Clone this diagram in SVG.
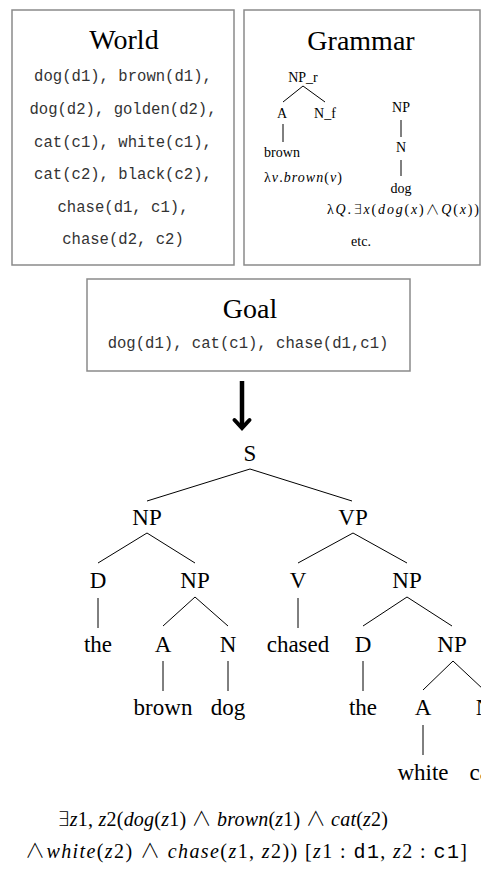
<svg xmlns="http://www.w3.org/2000/svg" width="481" height="872" viewBox="0 0 481 872">
<style>
.box{fill:#fff;stroke:#8a8a8a;stroke-width:1.5}
.title{font-family:"Liberation Serif","Times New Roman",serif;font-size:28px;text-anchor:middle;fill:#000}
.mono{font-family:"Liberation Mono","Courier New",monospace;font-size:15.6px;text-anchor:middle;fill:#333}
.g{font-family:"Liberation Serif","Times New Roman",serif;font-size:14px;text-anchor:middle;fill:#000}
.t{font-family:"Liberation Serif","Times New Roman",serif;font-size:23px;text-anchor:middle;fill:#000}
.f{font-family:"Liberation Serif","Times New Roman",serif;font-size:20px;fill:#000}
.i{font-style:italic}
.m{font-family:"Liberation Mono","Courier New",monospace}
.s{font-family:"DejaVu Sans",sans-serif;font-weight:200}
.w{font-family:"Noto Sans CJK JP","Noto Sans CJK SC",sans-serif;font-weight:300}
.e{stroke:#000;stroke-width:1;fill:none}
</style>
<rect width="481" height="872" fill="#fff"/>
<g id="world">
<rect class="box" x="12" y="10" width="222" height="255"/>
<text class="title" x="124" y="49">World</text>
<text class="mono" x="123" y="81">dog(d1), brown(d1),</text>
<text class="mono" x="123" y="114">dog(d2), golden(d2),</text>
<text class="mono" x="123" y="147">cat(c1), white(c1),</text>
<text class="mono" x="123" y="179">cat(c2), black(c2),</text>
<text class="mono" x="123" y="212">chase(d1, c1),</text>
<text class="mono" x="123" y="244">chase(d2, c2)</text>
</g>
<g id="grammar">
<rect class="box" x="244" y="10" width="236" height="255"/>
<text class="title" x="361" y="50">Grammar</text>
<text class="g" x="303" y="82">NP_r</text>
<text class="g" x="282" y="118">A</text>
<text class="g" x="325" y="118">N_f</text>
<text class="g" x="282" y="157">brown</text>
<text class="g" x="303" y="182" textLength="78" lengthAdjust="spacing"><tspan>λ</tspan><tspan class="i">v</tspan>.<tspan class="i">brown</tspan>(<tspan class="i">v</tspan>)</text>
<text class="g" x="401" y="112">NP</text>
<text class="g" x="401" y="152">N</text>
<text class="g" x="401" y="193">dog</text>
<text class="g" x="403" y="214" textLength="152" lengthAdjust="spacing"><tspan>λ</tspan><tspan class="i">Q</tspan>.<tspan class="s">∃</tspan><tspan class="i">x</tspan>(<tspan class="i">dog</tspan>(<tspan class="i">x</tspan>)<tspan class="w">∧</tspan><tspan class="i">Q</tspan>(<tspan class="i">x</tspan>))</text>
<text class="g" x="361" y="246">etc.</text>
<g class="e">
<line x1="303" y1="86" x2="283" y2="102"/>
<line x1="303" y1="86" x2="325" y2="102"/>
<line x1="283" y1="124" x2="283" y2="142"/>
<line x1="401" y1="120" x2="401" y2="137"/>
<line x1="401" y1="160" x2="401" y2="176"/>
</g>
</g>
<g id="goal">
<rect class="box" x="87" y="279" width="323" height="92"/>
<text class="title" x="250" y="318">Goal</text>
<text class="mono" x="248" y="348">dog(d1), cat(c1), chase(d1,c1)</text>
</g>
<g id="arrow">
<line x1="242" y1="381" x2="242" y2="426" stroke="#000" stroke-width="4.5"/>
<polyline points="234.5,420 242,428 249.5,420" fill="none" stroke="#000" stroke-width="4" stroke-linecap="round" stroke-linejoin="miter"/>
</g>
<g id="connectors" class="e">
<line x1="250" y1="469" x2="147" y2="501"/>
<line x1="250" y1="469" x2="352" y2="501"/>
<line x1="147" y1="533" x2="98" y2="563"/>
<line x1="147" y1="533" x2="195" y2="563"/>
<line x1="353" y1="533" x2="298" y2="563"/>
<line x1="353" y1="533" x2="407" y2="563"/>
<line x1="98" y1="598" x2="98" y2="628"/>
<line x1="195" y1="597" x2="163" y2="626"/>
<line x1="195" y1="597" x2="228" y2="626"/>
<line x1="298" y1="598" x2="298" y2="628"/>
<line x1="407" y1="597" x2="363" y2="626"/>
<line x1="407" y1="597" x2="452" y2="626"/>
<line x1="163" y1="661" x2="163" y2="691"/>
<line x1="228" y1="661" x2="228" y2="691"/>
<line x1="363" y1="661" x2="363" y2="691"/>
<line x1="453" y1="661" x2="423" y2="690"/>
<line x1="453" y1="661" x2="484" y2="690"/>
<line x1="423" y1="725" x2="423" y2="755"/>
<line x1="484" y1="725" x2="484" y2="755"/>
</g>
<g id="n-S"><text class="t" x="250" y="461">S</text></g>
<g id="n-NP1"><text class="t" x="147" y="525">NP</text></g>
<g id="n-VP"><text class="t" x="353" y="525">VP</text></g>
<g id="n-D1"><text class="t" x="98" y="588">D</text></g>
<g id="n-NP2"><text class="t" x="195" y="588">NP</text></g>
<g id="n-V"><text class="t" x="298" y="588">V</text></g>
<g id="n-NP3"><text class="t" x="407" y="588">NP</text></g>
<g id="n-the1"><text class="t" x="98" y="652">the</text></g>
<g id="n-A1"><text class="t" x="163" y="652">A</text></g>
<g id="n-N1"><text class="t" x="228" y="652">N</text></g>
<g id="n-chased"><text class="t" x="298" y="652">chased</text></g>
<g id="n-D2"><text class="t" x="363" y="652">D</text></g>
<g id="n-NP4"><text class="t" x="452" y="652">NP</text></g>
<g id="n-brown"><text class="t" x="163" y="715">brown</text></g>
<g id="n-dog"><text class="t" x="228" y="715">dog</text></g>
<g id="n-the2"><text class="t" x="363" y="715">the</text></g>
<g id="n-A2"><text class="t" x="423" y="715">A</text></g>
<g id="n-N2"><text class="t" x="484" y="715">N</text></g>
<g id="n-white"><text class="t" x="423" y="780">white</text></g>
<g id="n-cat"><text class="t" x="483" y="780">cat</text></g>
<g id="formula">
<text class="f" x="57" y="826" textLength="331" lengthAdjust="spacing"><tspan class="s">∃</tspan><tspan class="i">z</tspan>1, <tspan class="i">z</tspan>2(<tspan class="i">dog</tspan>(<tspan class="i">z</tspan>1) <tspan class="w">∧</tspan> <tspan class="i">brown</tspan>(<tspan class="i">z</tspan>1) <tspan class="w">∧</tspan> <tspan class="i">cat</tspan>(<tspan class="i">z</tspan>2)</text>
<text class="f" x="25" y="858" textLength="442" lengthAdjust="spacing"><tspan class="w">∧</tspan><tspan class="i">white</tspan>(<tspan class="i">z</tspan>2) <tspan class="w">∧</tspan> <tspan class="i">chase</tspan>(<tspan class="i">z</tspan>1, <tspan class="i">z</tspan>2)) [<tspan class="i">z</tspan>1 : <tspan class="m">d1</tspan>, <tspan class="i">z</tspan>2 : <tspan class="m">c1</tspan>]</text>
</g>
</svg>
